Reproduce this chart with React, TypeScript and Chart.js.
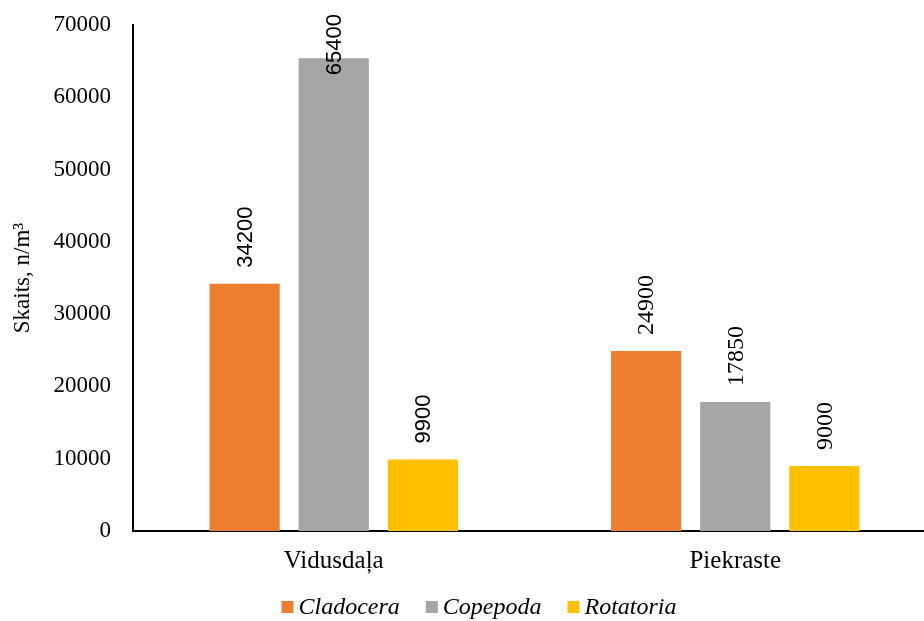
import React, { useEffect, useRef } from "react";
import { Chart, registerables } from "chart.js";

Chart.register(...registerables);

const categories = ["Vidusdaļa", "Piekraste"];
const seriesNames = ["Cladocera", "Copepoda", "Rotatoria"];
const cladocera = [34200, 24900];
const copepoda = [65400, 17850];
const rotatoria = [9900, 9000];
const seriesColors = ["#ED7D31", "#A5A5A5", "#FFC000"];
const yTicksMax = 70000;
const yTickStep = 10000;
const yTitle = "Skaits, n/m³";

const SERIF = "'Liberation Serif', 'Times New Roman', serif";
const SANS = "'Liberation Sans', Arial, sans-serif";

const valueLabelPlugin = {
  id: "valueLabels",
  afterDatasetsDraw(chart: any) {
    const ctx = chart.ctx;
    const minTop = 14;
    const gap = 16;
    chart.data.datasets.forEach((ds: any, di: number) => {
      const meta = chart.getDatasetMeta(di);
      meta.data.forEach((bar: any, i: number) => {
        const text = String(ds.data[i]);
        ctx.save();
        ctx.font = i === 0 ? `22px ${SANS}` : `24px ${SERIF}`;
        ctx.fillStyle = "#000";
        const w = ctx.measureText(text).width;
        let start = bar.y - gap;
        if (start - w < minTop) start = minTop + w;
        ctx.translate(bar.x, start);
        ctx.rotate(-Math.PI / 2);
        ctx.textAlign = "left";
        ctx.textBaseline = "middle";
        ctx.fillText(text, 0, 1);
        ctx.restore();
      });
    });
  },
};

const legendPlugin = {
  id: "customLegend",
  afterDraw(chart: any) {
    const ctx = chart.ctx;
    const box = 12;
    const textGap = 5;
    const itemGap = 26;
    const cy = 607;
    ctx.save();
    ctx.font = `italic 24px ${SERIF}`;
    const items = chart.data.datasets.map((ds: any) => ({
      label: ds.label,
      color: ds.backgroundColor,
      w: box + textGap + ctx.measureText(ds.label).width,
    }));
    const total = items.reduce((a: number, it: any) => a + it.w, 0) + itemGap * (items.length - 1);
    let x = (chart.width + 18) / 2 - total / 2;
    items.forEach((it: any) => {
      ctx.fillStyle = it.color;
      ctx.fillRect(x, cy - box / 2, box, box);
      ctx.fillStyle = "#000";
      ctx.textAlign = "left";
      ctx.textBaseline = "middle";
      ctx.fillText(it.label, x + box + textGap, cy + 1);
      x += it.w + itemGap;
    });
    ctx.restore();
  },
};

export default function App() {
  const ref = useRef<HTMLCanvasElement>(null);
  useEffect(() => {
    document.body.style.margin = "0";
    const canvas = ref.current!;
    const values = [cladocera, copepoda, rotatoria];
    const chart = new Chart(canvas, {
      type: "bar",
      data: {
        labels: categories,
        datasets: seriesNames.map((name, k) => ({
          label: name,
          data: values[k],
          backgroundColor: seriesColors[k],
          borderWidth: 0,
          categoryPercentage: 0.666,
          barPercentage: 0.787,
        })),
      },
      options: {
        responsive: false,
        animation: false,
        devicePixelRatio: 1,
        layout: { padding: { top: 0, right: 4, bottom: 30, left: 0 } },
        plugins: {
          tooltip: { enabled: false },
          legend: { display: false },
        },
        scales: {
          x: {
            grid: { display: false, drawTicks: false },
            border: { display: true, color: "#000", width: 2 },
            ticks: {
              color: "#000",
              padding: 15,
              font: { family: SERIF, size: 25 },
            },
          },
          y: {
            min: 0,
            max: yTicksMax,
            grid: { display: false, drawTicks: false },
            border: { display: true, color: "#000", width: 2 },
            ticks: {
              stepSize: yTickStep,
              color: "#000",
              padding: 22,
              font: { family: SERIF, size: 23 },
              callback: (v: any) => String(v),
            },
            title: {
              display: true,
              text: yTitle,
              color: "#000",
              padding: { top: 9, bottom: 0 },
              font: { family: SERIF, size: 23 },
            },
            afterFit(s: any) {
              s.width = 133;
              s.paddingTop = 25;
              s.paddingBottom = 0;
            },
          },
        },
      },
      plugins: [valueLabelPlugin, legendPlugin],
    });
    return () => chart.destroy();
  }, []);
  return (
    <div style={{ position: "fixed", left: 0, top: 0, width: 924, height: 621, overflow: "hidden", background: "#fff" }}>
      <canvas ref={ref} width={940} height={621} style={{ display: "block" }} />
    </div>
  );
}
